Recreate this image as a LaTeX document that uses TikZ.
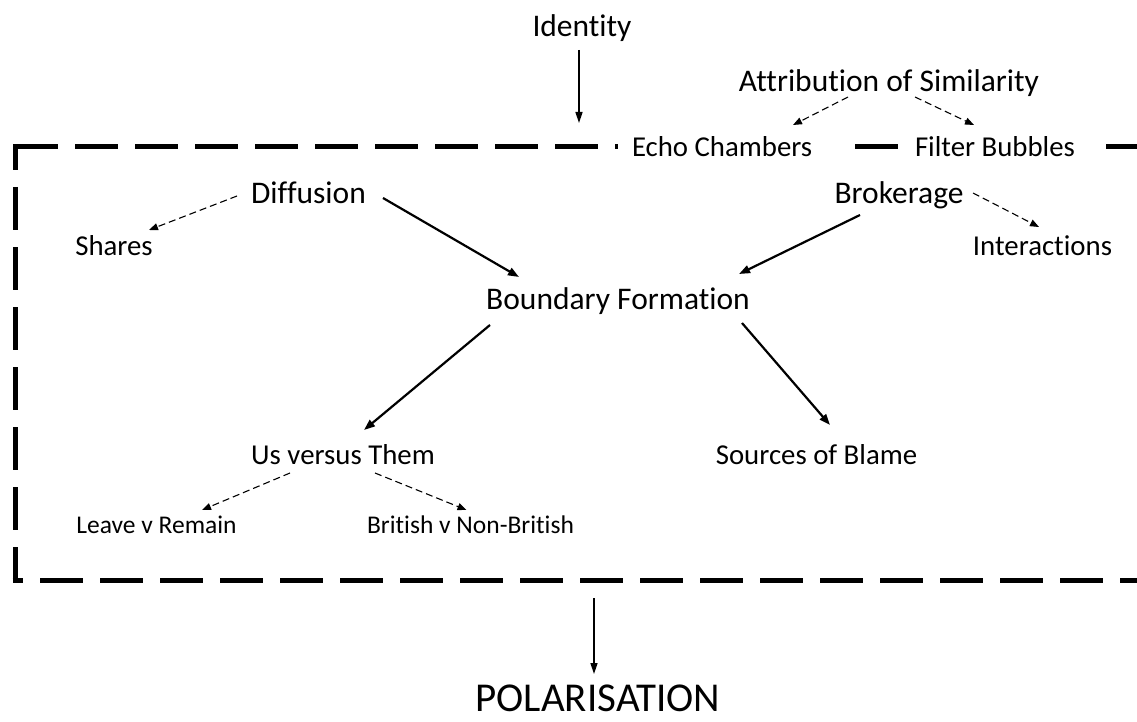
\documentclass[tikz,border=0pt]{standalone}
\usepackage{fontspec}
\setmainfont{Carlito}[Ligatures={NoCommon}]
\usetikzlibrary{calc,arrows.meta}
\begin{document}
\begin{tikzpicture}[x=1pt,y=-1pt,
  lblA/.style={inner sep=0pt, anchor=base, font=\fontsize{31.5}{38}\selectfont},
  lblB/.style={inner sep=0pt, anchor=base, font=\fontsize{28.8}{35}\selectfont},
  lblC/.style={inner sep=0pt, anchor=base, font=\fontsize{25.5}{31}\selectfont},
  lblP/.style={inner sep=0pt, anchor=base, font=\fontsize{41}{48}\selectfont},
  onframe/.style={lblB, fill=white, inner xsep=14pt, inner ysep=6pt},
  frameline/.style={line width=5pt, dash pattern=on 43pt off 17pt},
  strong/.style={line width=2.2pt, -{Triangle[length=11pt,width=8pt]}},
  plain/.style={line width=1.6pt, -{Triangle[length=11pt,width=7pt]}},
  dashy/.style={line width=1.1pt, dash pattern=on 7pt off 4pt, -{Triangle[length=9pt,width=7pt]}},
]
\fill[white] (0,0) rectangle (1137,722);
\useasboundingbox (0,0) rectangle (1137,722);

% dashed frame (right edge lies outside the picture)
\draw[frameline] (15,147) -- (1200,147);
\draw[frameline, dash phase=17.5pt] (15,144.5) -- (15,582.5);
\draw[frameline, dash phase=32.5pt] (12.5,580) -- (1200,580);

% labels
\node[lblA] (id) at (582,37) {Identity};
\node[lblA] (attr) at (889,92) {Attribution of Similarity};
\node[onframe] (echo) at (731.5,157) {\makebox[199pt][l]{Echo Chambers}};
\node[onframe, inner xsep=17pt] (filt) at (1002,157) {\makebox[174pt][l]{Filter Bubbles}};
\node[lblA] (diff) at (308.5,204) {Diffusion};
\node[lblB] (shares) at (114,255) {Shares};
\node[lblA] (brok) at (899,204) {Brokerage};
\node[lblB] (inter) at (1042.5,255) {Interactions};
\node[lblA] (bf) at (618,309) {Boundary Formation};
\node[lblB] (us) at (343,464) {Us versus Them};
\node[lblB] (src) at (816.5,464) {Sources of Blame};
\node[lblC] (leave) at (156.5,533) {Leave v Remain};
\node[lblC] (brit) at (470.5,533) {British v Non-British};
\node[lblP] (pol) at (598,711) {POLARISATION};

\coordinate (idend) at (579,123);
\coordinate (polstart) at (594,598);

% connectors
\draw[plain] ($(id.base)+(-3,13)$) -- (idend);
\draw[dashy] ($(attr.base)+(-41,5)$) -- ($(echo.base)+(61.5,-32)$);
\draw[dashy] ($(attr.base)+(26,5)$) -- ($(filt.base)+(-28,-32)$);
\draw[dashy] ($(diff.base)+(-71.5,-8)$) -- ($(shares.base)+(35,-25)$);
\draw[strong] ($(diff.base)+(74.5,-6)$) -- ($(bf.base)+(-99,-32)$);
\draw[strong] ($(brok.base)+(-39,11)$) -- ($(bf.base)+(121,-35)$);
\draw[dashy] ($(brok.base)+(74,-11)$) -- ($(inter.base)+(-3.5,-28)$);
\draw[strong] ($(bf.base)+(-128,16)$) -- ($(us.base)+(21,-34)$);
\draw[strong] ($(bf.base)+(124,14)$) -- ($(src.base)+(13.5,-39)$);
\draw[dashy] ($(us.base)+(-53,9)$) -- ($(leave.base)+(45.5,-23)$);
\draw[dashy] ($(us.base)+(32,9)$) -- ($(brit.base)+(-4,-23)$);
\draw[plain] (polstart) -- ($(pol.base)+(-4,-37)$);
\end{tikzpicture}
\end{document}
